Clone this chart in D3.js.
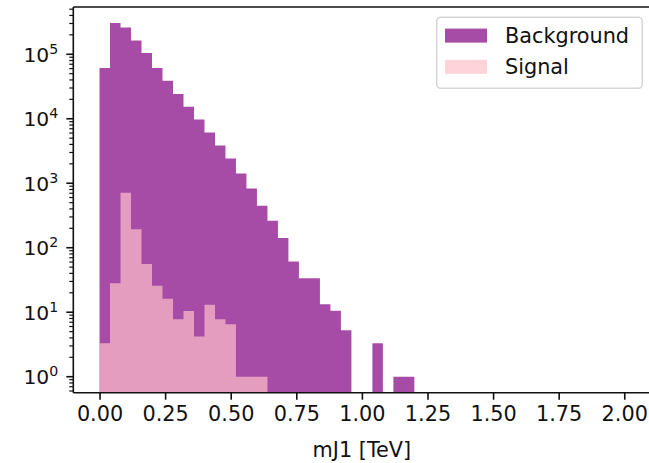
<!DOCTYPE html>
<html>
<head>
<meta charset="utf-8">
<script src="https://cdn.jsdelivr.net/npm/d3@7"></script>
<style>
  html, body { margin: 0; padding: 0; background: #fff; }
  svg { display: block; }
  text { font-family: "DejaVu Sans", sans-serif; fill: #111; }
</style>
</head>
<body>
<svg id="chart" width="649" height="463"></svg>
<script>
// Histogram bin edges for mJ1 [TeV]
const binEdges = [0.00, 0.04, 0.08, 0.12, 0.16, 0.20, 0.24, 0.28, 0.32, 0.36,
  0.40, 0.44, 0.48, 0.52, 0.56, 0.60, 0.64, 0.68, 0.72, 0.76,
  0.80, 0.84, 0.88, 0.92, 0.96, 1.00, 1.04, 1.08, 1.12, 1.16,
  1.20, 1.24, 1.28, 1.32, 1.36, 1.40, 1.44, 1.48, 1.52, 1.56,
  1.60, 1.64, 1.68, 1.72, 1.76, 1.80, 1.84, 1.88, 1.92, 1.96, 2.00];

// Event counts per bin
const backgroundCounts = [61200, 305000, 261000, 164000, 104600, 61200, 38800, 24100, 15400, 9750,
  6120, 3850, 2420, 1415, 828, 446, 261, 141, 61, 33.5,
  33.5, 13.3, 10.5, 5.25, 0, 0, 3.3, 0, 1, 1,
  0, 0, 0, 0, 0, 0, 0, 0, 0, 0,
  0, 0, 0, 0, 0, 0, 0, 0, 0, 0];
const signalCounts = [3.3, 28.2, 710, 194, 56, 25.8, 16.2, 7.8, 10.4, 4.2,
  13, 7.8, 6.5, 1, 1, 1, 0, 0, 0, 0,
  0, 0, 0, 0, 0, 0, 0, 0, 0, 0,
  0, 0, 0, 0, 0, 0, 0, 0, 0, 0,
  0, 0, 0, 0, 0, 0, 0, 0, 0, 0];

const seriesNames = ["Background", "Signal"];
const seriesColors = ["#800080", "#ffc0cb"];
const seriesAlpha = 0.7;

const xTicks = [0.00, 0.25, 0.50, 0.75, 1.00, 1.25, 1.50, 1.75, 2.00];
const yTickExponents = [0, 1, 2, 3, 4, 5];
const xLabel = "mJ1 [TeV]";

const plot = { left: 73.3, top: 7, right: 650.5, bottom: 392.7 };
const fontSize = 20.8;

const svg = d3.select("#chart");

const x = d3.scaleLinear().domain([-0.1, 2.1]).range([plot.left, plot.right]);
const y = d3.scaleLog().domain([Math.pow(10, -0.248), Math.pow(10, 5.733)]).range([plot.bottom, plot.top]);

svg.append("clipPath").attr("id", "plot-clip")
  .append("rect")
  .attr("x", plot.left).attr("y", plot.top)
  .attr("width", plot.right - plot.left).attr("height", plot.bottom - plot.top);

// Step outline for one histogram, bars rising from the bottom of the axes
function histPath(counts) {
  const pts = counts.map((c, i) => ({ x: binEdges[i], c }));
  pts.push({ x: binEdges[binEdges.length - 1], c: 0 });
  const area = d3.area()
    .x(d => x(d.x))
    .y0(plot.bottom)
    .y1(d => d.c > 0 ? y(d.c) : plot.bottom)
    .curve(d3.curveStepAfter);
  return area(pts);
}

const bars = svg.append("g").attr("clip-path", "url(#plot-clip)");
[backgroundCounts, signalCounts].forEach((counts, i) => {
  bars.append("path")
    .attr("d", histPath(counts))
    .attr("fill", seriesColors[i])
    .attr("fill-opacity", seriesAlpha);
});

// X axis
const xAxis = d3.axisBottom(x)
  .tickValues(xTicks)
  .tickFormat(d3.format(".2f"))
  .tickSize(7)
  .tickPadding(7)
  .tickSizeOuter(0);
const gx = svg.append("g").attr("transform", `translate(0,${plot.bottom})`).call(xAxis);
gx.select(".domain").remove();
gx.selectAll(".tick line").attr("stroke", "#111").attr("stroke-width", 1.6);
gx.selectAll(".tick text")
  .attr("font-size", fontSize)
  .attr("font-family", "DejaVu Sans")
  .attr("fill", "#111");

// Y axis: major ticks at decades, minor ticks in between
const [yMin, yMax] = y.domain();
const minorTicks = [];
for (let e = -1; e <= 6; e++) {
  for (let m = 2; m <= 9; m++) {
    const v = m * Math.pow(10, e);
    if (v >= yMin && v <= yMax) minorTicks.push(v);
  }
}
const gy = svg.append("g");
gy.selectAll("line.minor").data(minorTicks).join("line")
  .attr("class", "minor")
  .attr("x1", plot.left - 4).attr("x2", plot.left)
  .attr("y1", d => y(d)).attr("y2", d => y(d))
  .attr("stroke", "#111").attr("stroke-width", 1.2);
const majors = yTickExponents.map(e => Math.pow(10, e));
gy.selectAll("line.major").data(majors).join("line")
  .attr("class", "major")
  .attr("x1", plot.left - 7).attr("x2", plot.left)
  .attr("y1", d => y(d)).attr("y2", d => y(d))
  .attr("stroke", "#111").attr("stroke-width", 1.6);
const yLabels = gy.selectAll("text.ylab").data(yTickExponents).join("text")
  .attr("class", "ylab")
  .attr("x", plot.left - 15)
  .attr("y", e => y(Math.pow(10, e)) + 7.5)
  .attr("text-anchor", "end")
  .attr("font-size", 20.3);
yLabels.append("tspan").text("10");
yLabels.append("tspan")
  .attr("font-size", 14.2)
  .attr("dy", -8)
  .text(e => String(e));

// Spines: left, bottom, top (right edge sits at the page border)
const spine = svg.append("g").attr("fill", "none").attr("stroke", "#111").attr("stroke-width", 1.6);
spine.append("line").attr("x1", plot.left).attr("x2", plot.left).attr("y1", plot.top).attr("y2", plot.bottom);
spine.append("line").attr("x1", plot.left).attr("x2", plot.right).attr("y1", plot.bottom).attr("y2", plot.bottom);
spine.append("line").attr("x1", plot.left).attr("x2", plot.right).attr("y1", plot.top).attr("y2", plot.top);
spine.append("line").attr("x1", plot.right).attr("x2", plot.right).attr("y1", plot.top).attr("y2", plot.bottom);

// X axis label
svg.append("text")
  .attr("x", (plot.left + plot.right) / 2)
  .attr("y", 457)
  .attr("text-anchor", "middle")
  .attr("font-size", fontSize)
  .text(xLabel);

// Legend
const legend = svg.append("g");
legend.append("rect")
  .attr("x", 436.7).attr("y", 17.3)
  .attr("width", 205.6).attr("height", 71)
  .attr("rx", 4).attr("ry", 4)
  .attr("fill", "#fff").attr("fill-opacity", 0.8)
  .attr("stroke", "#cccccc").attr("stroke-opacity", 0.8).attr("stroke-width", 1.6);
const rowCenters = [35.6, 66.8];
seriesNames.forEach((name, i) => {
  legend.append("rect")
    .attr("x", 445).attr("y", rowCenters[i] - 7)
    .attr("width", 42).attr("height", 14)
    .attr("fill", seriesColors[i]).attr("fill-opacity", seriesAlpha);
  legend.append("text")
    .attr("x", 505).attr("y", rowCenters[i] + 7.2)
    .attr("font-size", fontSize)
    .text(name);
});
</script>
</body>
</html>
